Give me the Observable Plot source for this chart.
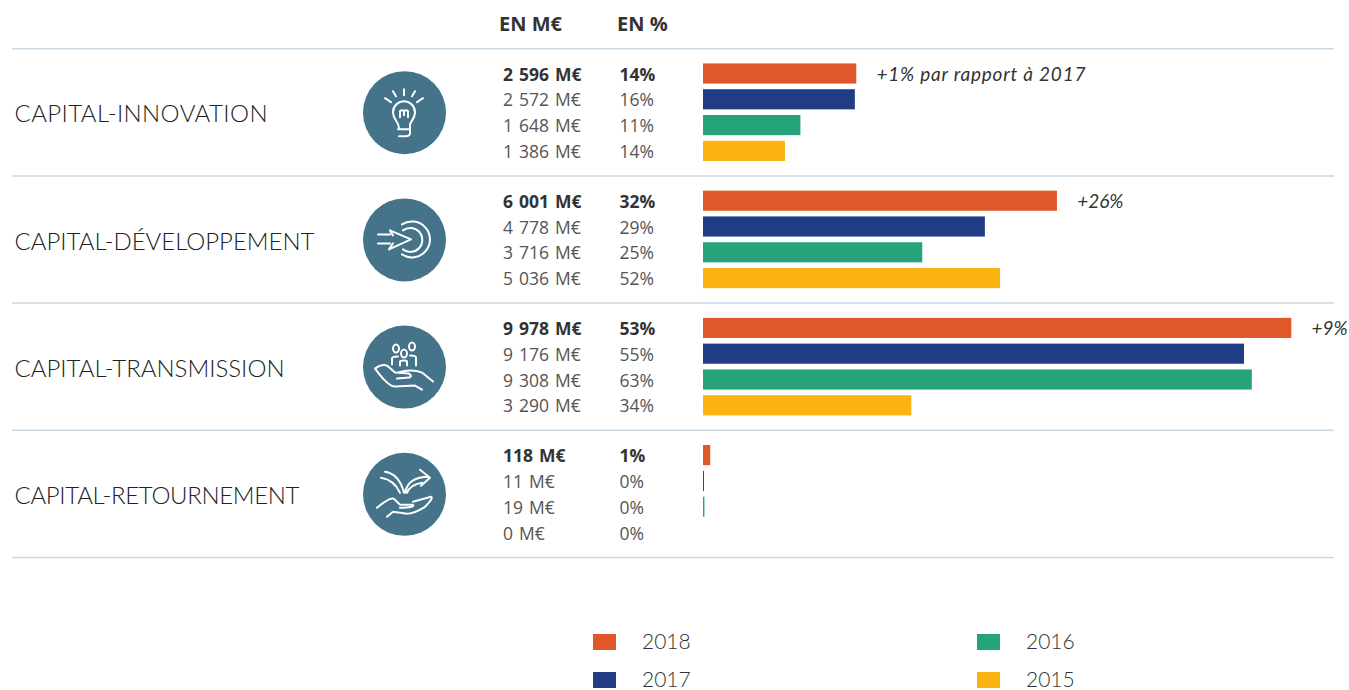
<!DOCTYPE html>
<html lang="fr">
<head>
<meta charset="utf-8">
<script src="https://cdn.jsdelivr.net/npm/d3@7"></script>
<script src="https://cdn.jsdelivr.net/npm/@observablehq/plot@0.6"></script>
<style>
html,body{margin:0;padding:0;background:#fff;overflow:hidden}
svg{display:block}
#legend{position:relative;height:90px;font:21px Lato,sans-serif;font-weight:300;color:#333}
#legend div{position:absolute;display:flex;align-items:center;height:16px}
#legend i{display:block;width:23px;height:16px;margin-right:26px}
#legend span{position:relative;top:-1.5px}
</style>
</head>
<body>
<div id="chart"></div>
<div id="legend"></div>
<script>
const categories = ["CAPITAL-INNOVATION","CAPITAL-DÉVELOPPEMENT","CAPITAL-TRANSMISSION","CAPITAL-RETOURNEMENT"];
const years = ["2018","2017","2016","2015"];
const yearColors = ["#e05829","#203c85","#26a37a","#fbb312"];
const barValues = [
  [2596,2572,1648,1386],
  [6001,4778,3716,5036],
  [9978,9176,9308,3530], // the 2015 bar is drawn longer than its 3 290 M€ label
  [118,11,19,0]
];
const amountLabels = [
  ["2 596 M€","2 572 M€","1 648 M€","1 386 M€"],
  ["6 001 M€","4 778 M€","3 716 M€","5 036 M€"],
  ["9 978 M€","9 176 M€","9 308 M€","3 290 M€"],
  ["118 M€","11 M€","19 M€","0 M€"]
];
const percentLabels = [
  ["14%","16%","11%","14%"],
  ["32%","29%","25%","52%"],
  ["53%","55%","63%","34%"],
  ["1%","0%","0%","0%"]
];
const notes = ["+1% par rapport à 2017","+26%","+9%",""];
const headers = ["EN M€","EN %"];

const GROUP = 4.93;
const rows = categories.flatMap((c,g)=>years.map((year,r)=>({
  g, r, year, pos:g*GROUP+r,
  value:barValues[g][r], amount:amountLabels[g][r], percent:percentLabels[g][r]
})));
const groups = categories.map((name,g)=>({
  g, name, mid:g*GROUP+1.5, top:g*GROUP-0.98, first:g*GROUP,
  value:barValues[g][0], note:notes[g]
}));

const icons = [
`<path d="M0,-23V-17M-11,-21L-8,-16M11,-21L8,-16M-19,-14L-13,-10M19,-14L13,-10"/>
 <path d="M-5,16C-5,9 -11,8 -11,0A11,11 0 0 1 11,0C11,6 7,9 6,12C6,16 6,18 6,21C6,25 0,24 -5,24M-6,17H6"/>
 <path d="M-4,5V-1Q-2,-3 0,-1Q2,-3 4,-1V5M0,-1V3"/>`,
`<path d="M-26,-5H-14M-26,4H-14"/>
 <path d="M-14,-9L7,0L-15,10L-11,4M-14,-9L-11,-4"/>
 <path d="M-2,-15A18,18 0 1 1 -2,15M-1,-9A12,12 0 1 1 -1,10"/>`,
`<ellipse cx="-8" cy="-18" rx="3" ry="4"/><ellipse cx="8" cy="-20" rx="3" ry="4"/><ellipse cx="0" cy="-13" rx="3" ry="4"/>
 <path d="M-12,-2V-8Q-12,-10 -6,-10M12,-1V-9Q12,-11 6,-11M-4,-1V-5Q-4,-6 0,-6Q3,-6 3,-5V-1"/>
 <path d="M-29,2Q-22,-3 -17,-1L-9,6L5,7Q9,10 5,11L-7,12M-7,6Q8,2 18,6L29,15M-29,2Q-23,10 -19,14Q-13,20 -9,20L11,19L18,23"/>`,
`<path d="M-23,-16Q-10,-14 -4,-1M-19,-22Q-5,-20 0,-1M1,-1Q4,-17 25,-17M16,-24L26,-16L17,-8M3,-1Q6,-9 18,-11"/>
 <path d="M-27,14Q-14,3 -10,5L-4,11L9,11Q11,14 -4,14M9,8L27,3Q30,4 21,13Q10,20 3,20L-11,18L-17,23"/>`
];

const iconMark = (index,{y})=>{
  const root = d3.create("svg:g").attr("fill","none").attr("stroke","#fff")
    .attr("stroke-width",2).attr("stroke-linecap","round").attr("stroke-linejoin","round");
  groups.forEach((d,i)=>root.append("g")
    .attr("transform",`translate(404,${y(d.mid)})`).html(icons[i]));
  return root.node();
};

const sans = "'Open Sans',sans-serif";
const tableText = (data,field,dx,bold)=>Plot.text(data,{frameAnchor:"left",dx,dy:1,y:"pos",text:field,
  textAnchor:"start",fontSize:17.5,fontFamily:sans,fontWeight:bold?700:400,fill:bold?"#333":"#555"});
const firstRows = rows.filter(d=>d.r===0), otherRows = rows.filter(d=>d.r!==0);

const plot = Plot.plot({
  width:1349, height:600,
  marginLeft:12, marginRight:15, marginTop:0, marginBottom:0,
  style:{background:"#fff"},
  x:{domain:[0,9978], range:[703,1291], axis:null},
  y:{domain:[0,3*GROUP+3], range:[73.5,532.5], axis:null},
  color:{domain:years, range:yearColors},
  marks:[
    Plot.ruleY(groups,{y:"top",stroke:"#c9d9e3",strokeWidth:1.5}),
    Plot.ruleY([4*GROUP-0.98],{stroke:"#c9d9e3",strokeWidth:1.5}),
    Plot.rect(rows.filter(d=>d.value>0),{x1:0,x2:"value",y1:d=>d.pos-0.39,y2:d=>d.pos+0.39,fill:"year",insetRight:-0.3}),
    Plot.dot(groups,{frameAnchor:"left",dx:392,y:"mid",r:41.5,fill:"#44738a"}),
    iconMark,
    Plot.text(groups,{frameAnchor:"left",dx:2,dy:2,y:"mid",text:"name",textAnchor:"start",
      fontSize:24,fontFamily:"Lato,sans-serif",fontWeight:300,fill:"#222"}),
    tableText(firstRows,"amount",490.5,true),
    tableText(firstRows,"percent",607,true),
    tableText(otherRows,"amount",490.5,false),
    tableText(otherRows,"percent",607,false),
    Plot.text(groups,{x:"value",y:"first",dx:20,dy:1,text:"note",textAnchor:"start",
      fontSize:19,fontFamily:"Lato,sans-serif",fontStyle:"italic",fontWeight:400,fill:"#333"}),
    Plot.text([headers[0]],{frameAnchor:"top-left",dx:486.5,dy:16,text:d=>d,textAnchor:"start",
      fontSize:20,fontFamily:sans,fontWeight:700,fill:"#333"}),
    Plot.text([headers[1]],{frameAnchor:"top-left",dx:604.5,dy:16,text:d=>d,textAnchor:"start",
      fontSize:20,fontFamily:sans,fontWeight:700,fill:"#333"})
  ]
});
document.getElementById("chart").append(plot);

// The reference's geometric face is wider than Lato on some strings: fit those to their measured lengths.
const fitted = new Map([[categories[0],253],[categories[1],300],[categories[2],270],[categories[3],285],[notes[0],209]]);
const amounts = new Set(amountLabels.flat());
d3.select(plot).selectAll("text").each(function(){
  const w = fitted.get(this.textContent);
  if (w) this.setAttribute("textLength",w);
  if (amounts.has(this.textContent)) this.style.wordSpacing = "1.5px";
});

const legendPos = [[593,34],[593,72],[977,34],[977,72]];
const legend = document.getElementById("legend");
years.forEach((y,i)=>{
  const el = document.createElement("div");
  el.style.left = legendPos[i][0]+"px";
  el.style.top = legendPos[i][1]+"px";
  const sw = document.createElement("i");
  sw.style.background = yearColors[i];
  const t = document.createElement("span");
  t.textContent = y;
  el.append(sw,t);
  legend.append(el);
});
</script>
</body>
</html>
